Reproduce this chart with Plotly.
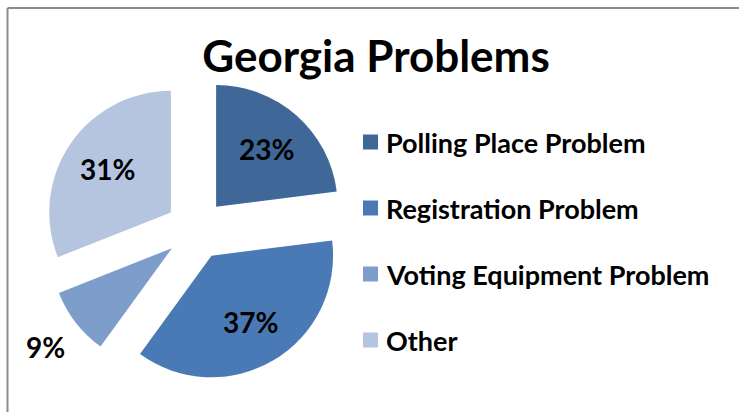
import math
import plotly.graph_objects as go

categories = ["Polling Place Problem", "Registration Problem", "Voting Equipment Problem", "Other"]
values = [23, 37, 9, 31]
colors = ["#3F6899", "#4A7AB5", "#7D9DCB", "#B5C5E0"]
label_outside = [False, False, True, False]
title_text = "Georgia Problems"

W, H = 739, 412
FONT = "Lato, 'Open Sans', sans-serif"
PULL = 0.25
DOM_X = (44, 348)     # pixel extent of pie domain (left->right)
DOM_Y = (30, 335)     # pixel extent of pie domain (bottom->top)

fig = go.Figure()
fig.add_trace(go.Pie(
    labels=categories,
    values=values,
    sort=False,
    direction="clockwise",
    rotation=0,
    pull=[PULL] * len(values),
    marker=dict(colors=colors, line=dict(width=0)),
    textinfo="none",
    domain=dict(x=[DOM_X[0] / W, DOM_X[1] / W], y=[DOM_Y[0] / H, DOM_Y[1] / H]),
    showlegend=False,
    automargin=False,
    hoverinfo="label+percent",
))

# percentage labels placed along each slice's mid-angle (same geometry plotly uses)
cx = (DOM_X[0] + DOM_X[1]) / 2
cy_up = (DOM_Y[0] + DOM_Y[1]) / 2
r = min(DOM_X[1] - DOM_X[0], DOM_Y[1] - DOM_Y[0]) / 2 / (1 + PULL)
total = sum(values)
annotations = []
cum = 0
for v, outside in zip(values, label_outside):
    mid = (cum + v / 2) / total * 2 * math.pi
    cum += v
    dist = (PULL + (1.32 if outside else 0.63)) * r
    px = cx + dist * math.sin(mid)
    py = cy_up + dist * math.cos(mid)
    annotations.append(dict(xref="paper", yref="paper", x=px / W, y=py / H,
                            xanchor="center", yanchor="middle", showarrow=False,
                            text=f"{round(v / total * 100)}%",
                            font=dict(family=FONT, size=28, color="black", weight="bold")))

shapes = [
    dict(type="line", xref="paper", yref="paper", x0=7.5 / W, x1=1.0, y0=1 - 8 / H, y1=1 - 8 / H,
         line=dict(color="#8C8C8C", width=2)),
    dict(type="line", xref="paper", yref="paper", x0=7.5 / W, x1=7.5 / W, y0=1 - 8 / H, y1=0,
         line=dict(color="#8C8C8C", width=2)),
]
leg_top, leg_step = 142, 66
for i, (cat, col) in enumerate(zip(categories, colors)):
    yc = leg_top + i * leg_step
    shapes.append(dict(type="rect", xref="paper", yref="paper",
                       x0=363 / W, x1=378 / W, y0=1 - (yc + 7.5) / H, y1=1 - (yc - 7.5) / H,
                       fillcolor=col, line=dict(width=0)))
    annotations.append(dict(xref="paper", yref="paper", x=384 / W, y=1 - yc / H,
                            xanchor="left", yanchor="middle", text=cat, showarrow=False,
                            font=dict(family=FONT, size=27, color="black", weight="bold")))

fig.update_layout(
    width=W, height=H,
    autosize=False,
    margin=dict(l=0, r=0, t=0, b=0, pad=0, autoexpand=False),
    paper_bgcolor="white",
    plot_bgcolor="white",
    title=dict(text=title_text, x=376 / W, xanchor="center", y=1 - 57 / H, yanchor="middle",
               font=dict(family=FONT, size=44, color="black", weight="bold")),
    shapes=shapes,
    annotations=annotations,
)

fig.write_html("out.html", config={"responsive": False, "displayModeBar": False},
               post_script="document.body.style.margin='0';document.body.style.padding='0';")
